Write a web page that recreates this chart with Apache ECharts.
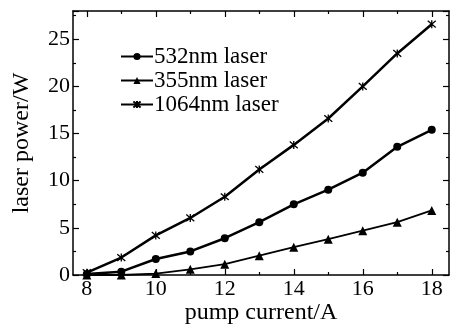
<!DOCTYPE html>
<html><head><meta charset="utf-8">
<script src="https://cdn.jsdelivr.net/npm/echarts@6/dist/echarts.min.js"></script>
<style>html,body{margin:0;padding:0;background:#fff}#c{width:451px;height:325px}</style>
</head><body><div id="c"></div>
<script>
const current = [8, 9, 10, 11, 12, 13, 14, 15, 16, 17, 18];
const p532 = [0.1, 0.35, 1.7, 2.5, 3.9, 5.6, 7.5, 9.05, 10.85, 13.6, 15.4];
const p355 = [0, 0, 0.15, 0.6, 1.15, 2.05, 2.95, 3.8, 4.7, 5.6, 6.85];
const p1064 = [0.25, 1.85, 4.2, 6.05, 8.3, 11.2, 13.8, 16.6, 20.0, 23.5, 26.6];
const xMajor = [8, 10, 12, 14, 16, 18];
const xMinor = [9, 11, 13, 15, 17];

const FONT = 'Liberation Serif';
const chart = echarts.init(document.getElementById('c'));
const pair = a => current.map((x, i) => [x, a[i]]);
const star = 'path://M0,0L10,10M10,0L0,10M5,-1L5,11';

function xAx(pos, vals, len, label, line) {
  return {
    type: 'value', position: pos, min: 7.6, max: 18.5,
    axisLine: {show: line, onZero: false, lineStyle: {color: '#000', width: 1.5}},
    axisTick: {show: true, inside: true, length: len, customValues: vals, lineStyle: {color: '#000', width: 1.2}},
    axisLabel: label ? {show: true, customValues: vals, color: '#000', fontFamily: FONT, fontSize: 22, margin: 3} : {show: false},
    splitLine: {show: false},
    name: label ? 'pump current/A' : '', nameLocation: 'middle', nameGap: 26, nameMoveOverlap: false,
    nameTextStyle: {color: '#000', fontFamily: FONT, fontSize: 24}
  };
}
function yAx(pos, label) {
  return {
    type: 'value', position: pos, min: 0, max: 28, interval: 5,
    axisLine: {show: true, onZero: false, lineStyle: {color: '#000', width: 1.5}},
    axisTick: {show: true, inside: true, length: 6, lineStyle: {color: '#000', width: 1.2}},
    minorTick: {show: true, splitNumber: 2, length: 3, lineStyle: {color: '#000', width: 1.2}},
    axisLabel: label ? {show: true, showMaxLabel: false, color: '#000', fontFamily: FONT, fontSize: 22, margin: 3} : {show: false},
    splitLine: {show: false},
    name: label ? 'laser power/W' : '', nameLocation: 'middle', nameGap: 39, nameRotate: 90, nameMoveOverlap: false,
    nameTextStyle: {color: '#000', fontFamily: FONT, fontSize: 24}
  };
}

chart.setOption({
  animation: false,
  backgroundColor: '#fff',
  grid: {left: 73, right: 2, top: 11, bottom: 50, containLabel: false, outerBoundsMode: 'none'},
  legend: {
    orient: 'vertical', left: 115, top: 40, itemGap: 1, itemWidth: 32, itemHeight: 9,
    textStyle: {color: '#000', fontFamily: FONT, fontSize: 23, padding: [0, 0, 0, -4]},
    data: ['532nm laser', '355nm laser', '1064nm laser']
  },
  xAxis: [
    xAx('bottom', xMajor, 6, true, true),
    xAx('bottom', xMinor, 3, false, false),
    xAx('top', xMajor, 6, false, true),
    xAx('top', xMinor, 3, false, false)
  ],
  yAxis: [yAx('left', true), yAx('right', false)],
  series: [
    {name: '532nm laser', type: 'line', data: pair(p532), symbol: 'circle', symbolSize: 8,
     lineStyle: {color: '#000', width: 2.5}, itemStyle: {color: '#000'}},
    {name: '355nm laser', type: 'line', data: pair(p355), symbol: 'triangle', symbolSize: 9,
     lineStyle: {color: '#000', width: 1.8}, itemStyle: {color: '#000'}},
    {name: '1064nm laser', type: 'line', data: pair(p1064), symbol: star, symbolSize: 8,
     lineStyle: {color: '#000', width: 2.5}, itemStyle: {color: 'none', borderColor: '#000', borderWidth: 1.3}}
  ]
});
</script></body></html>
